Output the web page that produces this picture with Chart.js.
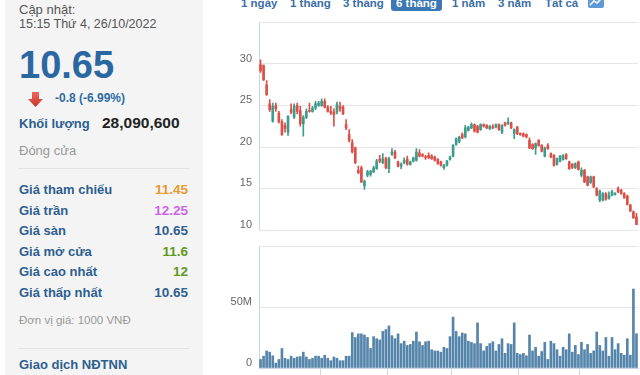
<!DOCTYPE html>
<html>
<head>
<meta charset="utf-8">
<script src="https://cdn.jsdelivr.net/npm/chart.js@4.4.0/dist/chart.umd.min.js"></script>
<style>
  body { margin: 0; width: 640px; height: 375px; overflow: hidden; background: #fff;
         font-family: "Liberation Sans", Arial, sans-serif; position: relative; }
  .t { position: absolute; line-height: 1; white-space: nowrap; }
  #panel { position: absolute; left: 5px; top: 0; width: 198px; height: 375px; background: #f4f4f4; }
  .lbl { left: 19px; font-weight: bold; font-size: 13px; color: #2d5f90; }
  .val { right: 452px; font-weight: bold; font-size: 13.5px; text-align: right; }
  .tab { top: -2px; font-weight: bold; font-size: 11.5px; color: #3a6fa6; }
  .sep { position: absolute; left: 18px; width: 171px; height: 1px; background: #e3e3e3; }
  canvas { position: absolute; left: 205px; }
</style>
</head>
<body>
<div id="panel"></div>
<div class="t" style="left:19px;top:3px;font-size:13px;color:#555">Cập nhật:</div>
<div class="t" style="left:19px;top:17.5px;font-size:12.5px;color:#555">15:15 Thứ 4, 26/10/2022</div>
<div class="t" style="left:19px;top:46px;font-size:38px;font-weight:bold;color:#2a68a2">10.65</div>
<svg style="position:absolute;left:27px;top:91px" width="17" height="17">
  <defs><linearGradient id="ag" x1="0" y1="0" x2="0" y2="1">
    <stop offset="0" stop-color="#f0685e"/><stop offset="1" stop-color="#c8322b"/></linearGradient></defs>
  <path d="M5 1 H12 V8 H16 L8.5 16 L1 8 H5 Z" fill="url(#ag)"/>
</svg>
<div class="t" style="left:55px;top:92px;font-size:12px;font-weight:bold;color:#2e6ca4">-0.8 (-6.99%)</div>
<div class="t lbl" style="top:116.5px">Khối lượng</div>
<div class="t" style="left:102px;top:115px;font-size:15.5px;font-weight:bold;color:#222">28,090,600</div>
<div class="t" style="left:19px;top:144px;font-size:13px;color:#999">Đóng cửa</div>
<div class="sep" style="top:168px"></div>
<div class="t lbl" style="top:183px">Giá tham chiếu</div>
<div class="t val" style="top:183px;color:#e59a32">11.45</div>
<div class="t lbl" style="top:203.5px">Giá trần</div>
<div class="t val" style="top:203.5px;color:#cc66e6">12.25</div>
<div class="t lbl" style="top:224px">Giá sàn</div>
<div class="t val" style="top:224px;color:#2d5f90">10.65</div>
<div class="t lbl" style="top:244.5px">Giá mở cửa</div>
<div class="t val" style="top:244.5px;color:#5f9a1c">11.6</div>
<div class="t lbl" style="top:265px">Giá cao nhất</div>
<div class="t val" style="top:265px;color:#5f9a1c">12</div>
<div class="t lbl" style="top:285.5px">Giá thấp nhất</div>
<div class="t val" style="top:285.5px;color:#2d5f90">10.65</div>
<div class="t" style="left:19px;top:315px;font-size:11.5px;color:#999">Đơn vị giá: 1000 VNĐ</div>
<div class="sep" style="top:348px"></div>
<div class="t lbl" style="top:358px">Giao dịch NĐTNN</div>

<div class="t tab" style="left:241px">1 ngày</div>
<div class="t tab" style="left:290px">1 tháng</div>
<div class="t tab" style="left:343px">3 tháng</div>
<div style="position:absolute;left:391px;top:-5px;width:51px;height:16px;background:#3b78b5;border-radius:3px"></div>
<div class="t tab" style="left:396px;color:#fff">6 tháng</div>
<div class="t tab" style="left:452px">1 năm</div>
<div class="t tab" style="left:498px">3 năm</div>
<div class="t tab" style="left:545px">Tất cả</div>
<svg style="position:absolute;left:588px;top:-4px" width="16" height="12">
  <rect x="0" y="0" width="16" height="12" rx="2" fill="#5d9ad6"/>
  <path d="M2 9 L6 5 L9 7 L14 2" stroke="#fff" stroke-width="1.5" fill="none"/>
</svg>

<canvas id="price" width="435" height="212" style="top:20px"></canvas>
<canvas id="vol" width="435" height="131" style="top:244px"></canvas>

<script>
var opens  = [29.9,29.8,27.5,25.2,23.1,25.0,24.1,23.0,22.6,21.8,24.5,23.6,25.0,24.4,22.8,23.6,24.4,24.3,24.7,25.0,
              25.0,25.5,24.8,24.3,24.2,24.2,24.9,24.8,22.7,21.5,20.5,19.9,17.2,17.5,15.3,16.6,16.7,17.0,17.4,18.5,
              18.1,18.6,17.4,19.1,19.4,18.2,17.7,18.1,18.5,17.9,18.3,18.4,19.3,19.1,18.8,19.0,18.9,18.8,18.5,18.2,
              17.5,17.8,18.5,18.9,20.3,20.6,21.5,21.2,22.0,22.3,22.7,22.5,22.1,22.7,22.6,22.2,22.4,22.4,22.7,21.8,
              22.9,22.8,22.9,21.6,22.4,21.6,21.6,21.5,20.8,20.3,19.9,20.8,20.2,18.9,20.2,19.2,19.0,17.9,18.3,18.5,
              19.1,18.2,17.95,17.5,18.2,16.6,17.2,16.4,15.7,16.4,15.0,13.6,13.6,14.4,13.8,14.2,14.3,15.0,14.8,14.4,
              14.1,13.0,12.2,11.6];
var highs  = [30.5,29.9,28.0,25.7,25.3,25.3,24.3,23.3,22.9,23.8,25.2,25.2,25.3,24.9,23.8,24.6,25.3,24.9,25.5,25.5,
              25.8,25.8,25.0,24.9,24.6,25.4,25.4,25.0,23.3,22.1,20.9,20.0,17.7,17.7,16.0,17.2,17.2,17.7,18.5,19.0,
              19.2,18.8,18.8,19.8,19.6,18.3,18.1,18.7,18.9,18.3,18.8,19.8,19.7,19.2,19.0,19.3,19.1,18.9,18.6,18.3,
              17.9,18.4,18.9,20.3,21.1,21.3,21.7,22.6,22.5,22.9,22.8,22.6,22.8,22.8,22.7,22.6,22.7,22.8,22.8,22.7,
              23.0,23.5,23.0,22.2,22.5,21.7,21.7,21.6,21.1,20.4,20.5,20.9,20.3,20.0,20.4,19.3,19.1,18.7,19.0,19.1,
              19.2,18.3,18.0,18.1,18.3,17.5,17.3,16.5,16.5,16.5,15.1,14.8,14.5,14.5,14.6,14.8,14.5,15.2,14.9,14.5,
              14.2,13.1,12.3,12.0];
var lows   = [29.0,28.0,26.2,24.3,23.0,24.3,22.9,21.4,21.8,21.4,24.0,23.4,24.0,22.5,21.3,23.4,24.2,24.2,24.5,24.9,
              24.9,24.7,24.2,23.9,22.5,24.0,24.3,23.9,22.1,20.6,19.3,18.0,16.8,15.7,14.9,16.4,16.5,16.9,17.3,18.1,
              18.0,17.4,16.9,19.0,18.6,17.6,17.4,18.0,17.8,17.8,18.2,18.3,18.8,18.8,18.5,18.6,18.5,18.3,17.9,17.7,
              17.3,17.7,18.4,18.8,20.2,20.5,21.0,21.1,21.9,22.2,21.8,21.7,22.0,22.4,22.2,22.1,22.2,22.3,22.0,21.6,
              22.5,22.7,22.2,21.0,21.5,21.4,21.2,21.1,19.8,19.7,19.1,20.1,19.4,18.8,19.7,18.7,17.7,17.8,18.2,18.4,
              18.5,17.3,17.4,17.4,17.2,16.4,15.7,15.3,15.6,15.1,14.1,13.4,13.5,13.6,13.7,14.1,14.2,14.5,14.3,13.8,
              13.0,12.2,11.4,10.65];
var closes = [29.2,28.1,26.3,24.5,24.9,24.6,23.0,21.5,22.2,23.7,24.2,24.9,24.3,22.8,23.6,24.3,24.3,24.7,25.2,25.3,
              25.5,24.8,24.3,24.1,23.9,25.1,24.6,24.0,22.3,20.8,19.4,18.1,16.9,15.8,15.9,17.0,17.1,17.5,18.3,18.3,
              18.6,17.5,18.6,19.4,18.7,17.7,17.9,18.4,17.9,18.2,18.7,19.4,18.9,18.9,18.7,18.7,18.6,18.4,18.0,17.8,
              17.8,18.3,18.8,20.2,21.0,21.2,21.1,22.3,22.4,22.7,21.9,21.8,22.7,22.5,22.3,22.5,22.3,22.7,22.1,22.6,
              22.6,23.0,22.3,22.1,21.6,21.5,21.3,21.2,19.9,19.8,20.4,20.2,19.5,19.9,19.8,18.8,17.8,18.6,18.9,19.0,
              18.6,17.4,17.55,18.0,17.3,17.2,15.8,15.4,16.4,15.2,14.2,14.7,14.4,13.7,14.2,14.6,14.4,14.6,14.4,13.9,
              13.1,12.3,11.45,10.65];
// volume in millions of shares
var volumes = [7,9.7,14,13,10,4,7,16,8,7, 9.7,8,9,9.4,13,9,7,8,9.7,9.7,
               8,10.5,8,6,9,8,6,6,9.7,9.7, 29,25,28,28,27,25,16,25.7,24,23,
               30,31.5,34.5,26.5,24,28,20,22,18.5,19.3, 22,29.5,21.5,18.5,21.5,22,15,14,14,13,
               17,16,25.7,41.7,30,25.7,28.7,28,22,21, 20,37,20,14,17.7,20,21.5,14,19.3,24,
               12,20,19.3,37,12,11,12,10,27,14, 17,9.7,13.5,21,7,22,20,15,9.7,17,
               15,28,13,18.5,11,21,15,19.3,12,14, 29.5,18.5,14,25,9.7,25,15,20,12,10.5,
               24,10.5,64.7,28.1];
var monthTicks = [20, 42, 63, 85, 105];
var priceTicks = [10, 15, 20, 25, 30, 35];
var volTicks = [0, 50, 100];

var upColor = '#3f9b8b', downColor = '#dc5147';
var labels = opens.map(function (o, i) { return String(i); });
var colors = opens.map(function (o, i) { return closes[i] >= o ? upColor : downColor; });
var fontFam = '"Liberation Sans", Arial, sans-serif';

// fixed axis width, and no extra room reserved for the end labels
function fixAxis(s) {
  s.width = 54;
  s.paddingTop = 0;
  s.paddingBottom = 0;
}

new Chart(document.getElementById('price'), {
  type: 'bar',
  data: {
    labels: labels,
    datasets: [{
      data: lows.map(function (l, i) { return [l, highs[i]]; }),
      backgroundColor: colors,
      barThickness: 1,
      grouped: false,
      order: 2
    }, {
      data: opens.map(function (o, i) { return [Math.min(o, closes[i]), Math.max(o, closes[i])]; }),
      backgroundColor: colors,
      barThickness: 2,
      minBarLength: 1,
      grouped: false,
      order: 1
    }]
  },
  options: {
    responsive: false,
    animation: false,
    layout: { padding: { top: 2.5, right: 2, bottom: 2, left: 0 } },
    plugins: { legend: { display: false }, tooltip: { enabled: false } },
    scales: {
      x: { display: false },
      y: {
        min: 10, max: 35,
        afterFit: fixAxis,
        afterBuildTicks: function (s) { s.ticks = priceTicks.map(function (v) { return { value: v }; }); },
        grid: { color: '#e6e6e6', drawTicks: false },
        border: { display: true, color: '#ccd6eb' },
        ticks: {
          callback: function (v) { return v === 35 ? '' : v; },
          color: '#666', font: { size: 11, family: fontFam }, padding: 7, labelOffset: -5.5
        }
      }
    }
  }
});

new Chart(document.getElementById('vol'), {
  type: 'bar',
  data: {
    labels: labels,
    datasets: [{
      data: volumes,
      backgroundColor: '#5585aa',
      barThickness: 2
    }]
  },
  options: {
    responsive: false,
    animation: false,
    layout: { padding: { top: 2, right: 2, bottom: 0, left: 0 } },
    plugins: { legend: { display: false }, tooltip: { enabled: false } },
    scales: {
      x: {
        afterFit: function (s) { s.height = 7; s.paddingLeft = 0; s.paddingRight = 0; },
        ticks: { display: false },
        grid: {
          drawOnChartArea: false, drawTicks: true, tickLength: 7,
          color: function (ctx) { return monthTicks.indexOf(ctx.index) >= 0 ? '#ccd6eb' : 'rgba(0,0,0,0)'; }
        },
        border: { display: true, color: '#ccd6eb' }
      },
      y: {
        min: 0, max: 100,
        afterFit: fixAxis,
        afterBuildTicks: function (s) { s.ticks = volTicks.map(function (v) { return { value: v }; }); },
        grid: { color: '#e6e6e6', drawTicks: false },
        border: { display: true, color: '#ccd6eb' },
        ticks: {
          callback: function (v) { return v === 50 ? '50M' : v === 0 ? '0' : ''; },
          color: '#666', font: { size: 11, family: fontFam }, padding: 7, labelOffset: -5.5
        }
      }
    }
  }
});
</script>
</body>
</html>
